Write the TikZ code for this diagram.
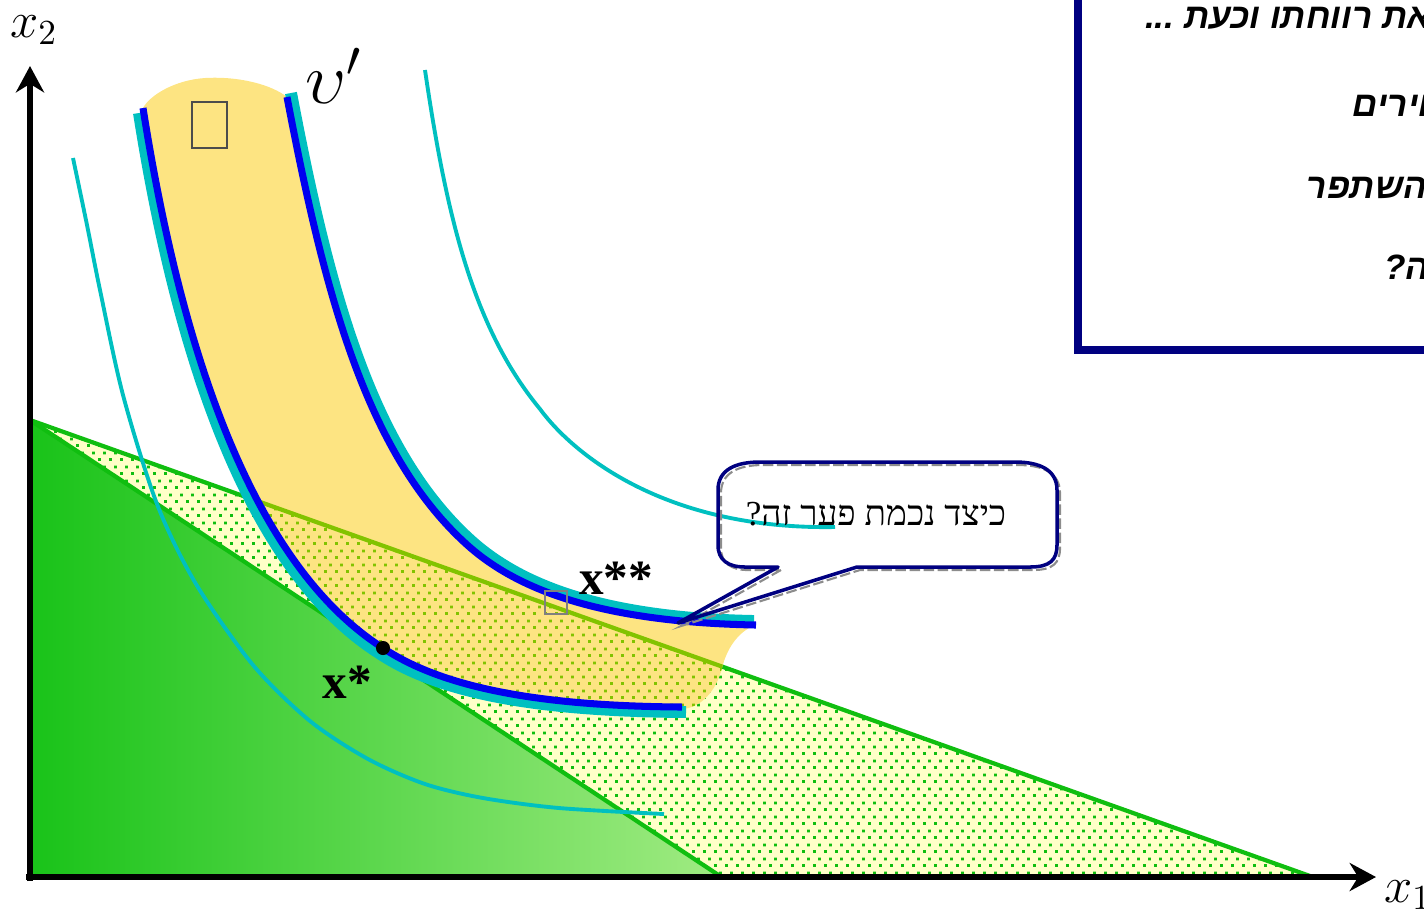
\documentclass[tikz,border=0pt]{standalone}
\usepackage{fontspec}
\usetikzlibrary{arrows.meta,patterns}
\TeXXeTstate=1
\newfontfamily\hebsans[Script=Hebrew]{Liberation Sans}
\newfontfamily\hebserif[Script=Hebrew]{Liberation Serif}
\newfontfamily\tms{Liberation Serif}
\definecolor{lineG}{RGB}{16,190,16}
\definecolor{paleY}{RGB}{255,255,200}
\definecolor{bandY}{RGB}{253,228,130}
\definecolor{oliveG}{RGB}{130,195,0}
\definecolor{cyanC}{RGB}{0,192,192}
\definecolor{blueC}{RGB}{0,0,240}
\definecolor{navyC}{RGB}{0,0,128}
\definecolor{gLeft}{RGB}{25,195,25}
\definecolor{gRight}{RGB}{160,235,130}
\pgfdeclarepatternformonly{greendots}{\pgfqpoint{0pt}{0pt}}{\pgfqpoint{3pt}{4pt}}{\pgfqpoint{3pt}{4pt}}{%
  \pgfpathrectangle{\pgfqpoint{0pt}{0pt}}{\pgfqpoint{0.85pt}{0.85pt}}%
  \pgfpathrectangle{\pgfqpoint{1.5pt}{2pt}}{\pgfqpoint{0.85pt}{0.85pt}}%
  \pgfusepath{fill}}
\tikzset{
  gline/.style={lineG, line width=1.2pt},
  thincyan/.style={cyanC, line width=1.1pt},
  undercyan/.style={cyanC, line width=3.4pt},
  bluecurve/.style={blueC, line width=2pt},
  axis/.style={black, line width=1.5pt, -{Stealth[length=7.5pt,width=8pt]}},
  boxtext/.style={anchor=base east, inner sep=0pt, font=\hebsans\bfseries\itshape\fontsize{10}{10}\selectfont},
}
\begin{document}
\begin{tikzpicture}[x=0.01cm, y=-0.01cm]
\useasboundingbox (0,0) rectangle (1424,923);
\clip (0,0) rectangle (1424,923);
\coordinate (A) at (30,420);
\coordinate (B) at (1310,876);
\coordinate (C) at (720,876);
\coordinate (O) at (30,876);
% outer budget set (dotted region)
\fill[paleY] (A) -- (B) -- (C) -- cycle;
\fill[pattern=greendots, pattern color=lineG] (A) -- (B) -- (C) -- cycle;
% inner budget set
\shade[left color=gLeft, right color=gRight] (A) -- (C) -- (O) -- cycle;
\draw[gline] (A) -- (B);
\draw[gline] (A) -- (C);
\draw[gline] (O) -- (B);
% band between the two indifference curves
\path[save path=\bandp] (143,108) .. controls (178,330) and (245,560) .. (383,648) .. controls (443,688) and (540,706) .. (682,709)
  .. controls (700,708) and (716,692) .. (722,668) .. controls (727,648) and (738,632) .. (755,625)
  .. controls (590,622) and (510,585) .. (464,542) .. controls (367,452) and (325,297) .. (287,97)
  .. controls (272,85) and (240,76) .. (205,78) .. controls (175,80) and (150,95) .. (143,108) -- cycle;
\fill[bandY, use path=\bandp];
\begin{scope}
  \path[clip, use path=\bandp];
  \fill[pattern=greendots, pattern color=oliveG] (A) -- (B) -- (C) -- cycle;
  \draw[oliveG, line width=1.2pt] (A) -- (B);
\end{scope}
% thin indifference curves
\draw[thincyan] plot[smooth] coordinates {(73,158) (87,225) (100,290) (123,395) (157,504) (196,584) (253,665) (310,721) (368,759) (425,784) (483,798) (559,808) (664,814)};
\draw[thincyan] (425,70) .. controls (447,220) and (474,329) .. (540,409) .. controls (570,450) and (660,530) .. (835,527);
% thick indifference curves
\draw[undercyan, shift={(-4,5)}] (143,108) .. controls (178,330) and (245,560) .. (383,648) .. controls (443,688) and (540,706) .. (690,707);
\draw[bluecurve] (143,108) .. controls (178,330) and (245,560) .. (383,648) .. controls (443,688) and (540,706) .. (682,707);
\draw[undercyan, shift={(4,-4)}] (287,97) .. controls (325,297) and (367,452) .. (464,542) .. controls (510,585) and (590,622) .. (750,625);
\draw[bluecurve] (287,97) .. controls (325,297) and (367,452) .. (464,542) .. controls (510,585) and (590,622) .. (756,625);
% small squares
\draw[black!70, line width=0.6pt] (192,102) rectangle (227,148);
\draw[black!50, line width=0.4pt] (545,591) rectangle (567,614);
% axes
\coordinate (orig) at (30,877);
\coordinate (ytip) at (30,66);
\coordinate (xtip) at (1376,877);
\draw[axis] (30,881) -- (ytip);
\draw[axis] (26,877) -- (xtip);
\node (lx2) at (34,30) {\fontsize{14.5}{14.5}\selectfont$x_2$};
\node (lx1) at (1408,895) {\fontsize{14.5}{14.5}\selectfont$x_1$};
\node (lu) at (334,76) {\fontsize{21}{21}\selectfont$\upsilon'$};
% points
\node[circle, fill=black, inner sep=0pt, minimum size=4pt] (xs) at (383,648) {};
\node (lxs) at (347,682) {\tms\bfseries\fontsize{14}{14}\selectfont x*};
\node (lxss) at (616,578) {\tms\bfseries\fontsize{14}{14}\selectfont x**};
% callout
\draw[black!45, line width=0.6pt, dash pattern=on 3pt off 1pt, shift={(3,3)}]
  (778,567) -- (678,623) -- (857,567) -- (1030,567) .. controls (1050,567) and (1057,560) .. (1057,545)
  -- (1057,490) .. controls (1057,470) and (1040,462) .. (1015,462) -- (760,462)
  .. controls (735,462) and (718,470) .. (718,490) -- (718,545) .. controls (718,560) and (728,567) .. (745,567) -- cycle;
\draw[navyC, line width=1pt, line join=round]
  (778,567) -- (678,623) -- (857,567) -- (1030,567) .. controls (1050,567) and (1057,560) .. (1057,545)
  -- (1057,490) .. controls (1057,470) and (1040,462) .. (1015,462) -- (760,462)
  .. controls (735,462) and (718,470) .. (718,490) -- (718,545) .. controls (718,560) and (728,567) .. (745,567) -- cycle;
\node (q) at (876,514) {\hebserif\fontsize{10}{10}\selectfont\beginR כיצד נכמת פער זה?\endR};
% top-right box
\draw[navyC, line width=2.3pt, fill=white] (1078,-30) rectangle (1460,350);
\node[boxtext] (t1) at (1432,28) {\beginR את רווחתו וכעת ...\endR};
\node[boxtext] (t2) at (1430,116) {\beginR וירים\endR};
\node[boxtext] (t3) at (1428,198) {\beginR השתפר\endR};
\node[boxtext] (t4) at (1430,279) {\beginR ה?\endR};
\end{tikzpicture}
\end{document}
